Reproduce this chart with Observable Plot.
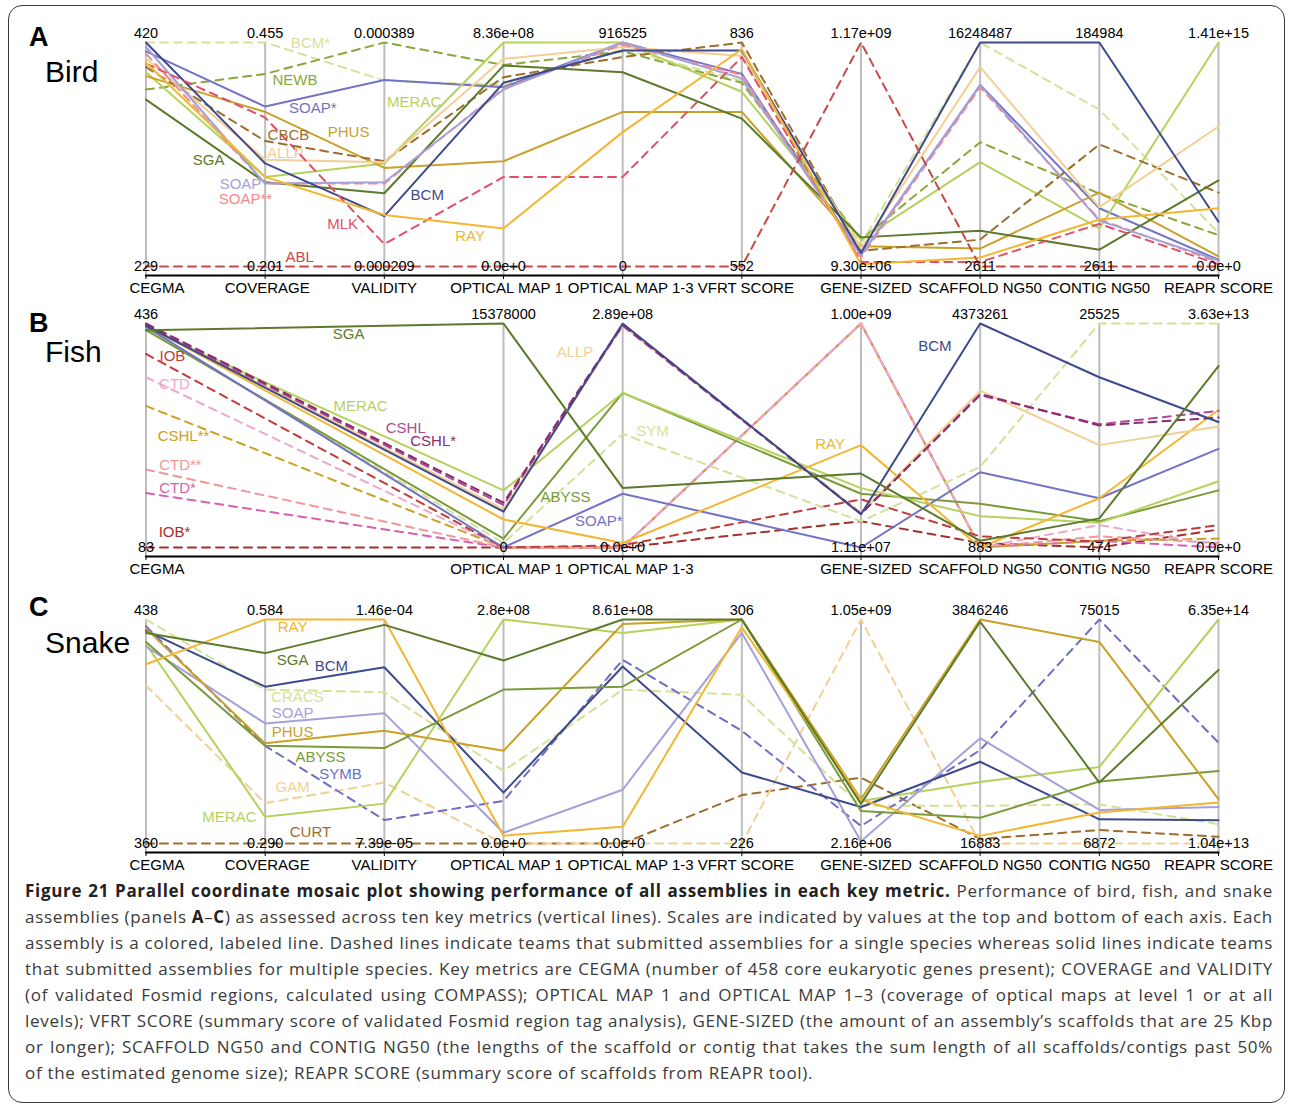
<!DOCTYPE html>
<html><head><meta charset="utf-8">
<script src="https://cdn.jsdelivr.net/npm/d3@7"></script>
<script src="https://cdn.jsdelivr.net/npm/@observablehq/plot@0.6"></script>
<style>
body{margin:0;background:#fff;font-family:"Liberation Sans",Arial,sans-serif;}
#box{position:absolute;left:8px;top:5px;width:1277px;height:1098px;border:1.5px solid #3a3a3a;border-radius:14px;box-sizing:border-box;}
.panel{position:absolute;left:0;}
.letter{position:absolute;left:29px;font-weight:bold;font-size:27px;line-height:1;color:#000;}
.species{position:absolute;left:45px;font-size:30px;line-height:1;color:#000;}
#caption{position:absolute;left:25px;top:878px;width:1248px;font-family:"Open Sans",sans-serif;font-size:17px;letter-spacing:0.7px;color:#3a3a3a;line-height:26px;}
#caption div{white-space:nowrap;}
#caption b{color:#222;}
</style></head>
<body>
<div id="box"></div>
<div id="charts"></div>
<div class="letter" style="top:24px">A</div><div class="species" style="top:57px">Bird</div>
<div class="letter" style="top:310px">B</div><div class="species" style="top:337px">Fish</div>
<div class="letter" style="top:594px">C</div><div class="species" style="top:628px">Snake</div>
<div id="caption">
<div class="fit"><b>Figure 21 Parallel coordinate mosaic plot showing performance of all assemblies in each key metric.</b> Performance of bird, fish, and snake</div>
<div class="fit">assemblies (panels <b>A</b>–<b>C</b>) as assessed across ten key metrics (vertical lines). Scales are indicated by values at the top and bottom of each axis. Each</div>
<div class="fit">assembly is a colored, labeled line. Dashed lines indicate teams that submitted assemblies for a single species whereas solid lines indicate teams</div>
<div class="fit">that submitted assemblies for multiple species. Key metrics are CEGMA (number of 458 core eukaryotic genes present); COVERAGE and VALIDITY</div>
<div class="fit">(of validated Fosmid regions, calculated using COMPASS); OPTICAL MAP 1 and OPTICAL MAP 1–3 (coverage of optical maps at level 1 or at all</div>
<div class="fit">levels); VFRT SCORE (summary score of validated Fosmid region tag analysis), GENE-SIZED (the amount of an assembly’s scaffolds that are 25 Kbp</div>
<div class="fit">or longer); SCAFFOLD NG50 and CONTIG NG50 (the lengths of the scaffold or contig that takes the sum length of all scaffolds/contigs past 50%</div>
<div>of the estimated genome size); REAPR SCORE (summary score of scaffolds from REAPR tool).</div>
</div>
<script>
// ---------- metrics ----------
const metrics = ["CEGMA","COVERAGE","VALIDITY","OPTICAL MAP 1","OPTICAL MAP 1-3","VFRT SCORE","GENE-SIZED","SCAFFOLD NG50","CONTIG NG50","REAPR SCORE"];

// ---------- Bird (panel A) ----------
const birdAxes = [0,1,2,3,4,5,6,7,8,9];
const birdTop = ["420","0.455","0.000389","8.36e+08","916525","836","1.17e+09","16248487","184984","1.41e+15"];
const birdBottom = ["229","0.201","0.000209","0.0e+0","0","552","9.30e+06","2611","2611","0.0e+0"];
const birdNames = ["BCM*","NEWB","SOAP*","MERAC","PHUS","CBCB","ALLP","SGA","SOAP**","SOAP","BCM","MLK","RAY","ABL"];
// normalized position on each axis (0 = bottom value, 1 = top value)
const birdValues = [
  [1.00,1.00,0.83,0.81,0.97,0.83,0.10,1.00,0.70,0.15],
  [0.79,0.86,1.00,0.90,0.96,0.82,0.12,0.555,0.325,0.14],
  [0.96,0.714,0.833,0.80,1.00,0.86,0.05,0.81,0.26,0.03],
  [0.867,0.40,0.46,1.00,1.00,0.78,0.12,0.466,0.17,1.00],
  [0.85,0.69,0.44,0.47,0.69,0.69,0.09,0.08,0.33,0.045],
  [0.89,0.56,0.47,0.845,0.935,1.00,0.07,0.12,0.545,0.33],
  [0.93,0.477,0.465,0.927,0.98,0.94,0.08,0.89,0.265,0.625],
  [0.745,0.376,0.327,0.897,0.867,0.66,0.13,0.16,0.075,0.384],
  [0.95,0.37,0.37,0.795,0.99,0.855,0.04,0.80,0.21,0.02],
  [0.98,0.37,0.376,0.79,1.00,0.84,0.05,0.81,0.205,0.027],
  [1.00,0.46,0.225,0.82,0.964,0.964,0.06,1.00,1.00,0.20],
  [0.906,0.665,0.10,0.40,0.40,0.935,0.02,0.02,0.19,0.01],
  [0.91,0.40,0.23,0.17,0.60,0.97,0.01,0.04,0.21,0.26],
  [0,0,0,0,0,0,1.00,0,0,0]
];
const birdLabelNames = ["BCM*","NEWB","SOAP*","MERAC","PHUS","CBCB","ALLP","SGA","SOAP","SOAP**","BCM","MLK","RAY","ABL"];
const birdLabelX = [1.38,1.25,1.40,2.25,1.70,1.195,1.17,0.525,0.793,0.835,2.36,1.65,2.72,1.29];
const birdLabelY = [0.996,0.83,0.705,0.732,0.598,0.585,0.504,0.473,0.367,0.299,0.317,0.1875,0.134,0.04];

// ---------- Fish (panel B) ----------
const fishAxes = [0,3,4,6,7,8,9];
const fishTop = ["436","","","15378000","2.89e+08","","1.00e+09","4373261","25525","3.63e+13"];
const fishBottom = ["83","","","0","0.0e+0","","1.11e+07","883","474","0.0e+0"];
const fishNames = ["IOB*","CTD*","CTD**","CSHL**","CTD","IOB","SYM","ABYSS","MERAC","SOAP*","RAY","ALLP","CSHL","CSHL*","BCM","SGA"];
const fishValues = [
  [0.00,0.00,0.00,0.117,0.02,0.00,0.08],
  [0.243,0.00,0.00,1.00,0.00,0.03,0.00],
  [0.348,0.00,0.00,1.00,0.00,0.05,0.02],
  [0.632,0.00,0.00,1.00,0.00,0.03,0.04],
  [0.76,0.00,0.00,1.00,0.00,0.10,0.01],
  [0.864,0.00,0.01,0.215,0.05,0.027,0.10],
  [0.975,0.02,0.507,0.117,0.36,1.00,1.00],
  [0.97,0.04,0.69,0.24,0.195,0.117,0.255],
  [0.98,0.255,0.69,0.265,0.14,0.11,0.296],
  [0.985,0.00,0.24,0.00,0.336,0.22,0.44],
  [0.99,0.125,0.02,0.457,0.00,0.22,0.614],
  [0.995,0.17,0.99,0.155,0.70,0.457,0.54],
  [0.995,0.19,0.99,0.15,0.68,0.55,0.61],
  [1.00,0.20,0.995,0.15,0.685,0.545,0.58],
  [0.99,0.16,1.00,0.148,1.00,0.76,0.56],
  [0.97,1.00,0.266,0.33,0.03,0.13,0.81]
];
const fishLabelNames = ["SGA","IOB","CTD","MERAC","CSHL","CSHL*","CSHL**","CTD**","CTD*","IOB*","ALLP","SYM","ABYSS","SOAP*","RAY","BCM"];
const fishLabelX = [1.70,0.222,0.239,1.80,2.18,2.41,0.315,0.289,0.264,0.239,3.60,4.25,3.52,3.80,5.74,6.62];
const fishLabelY = [0.951,0.852,0.731,0.632,0.534,0.475,0.498,0.368,0.265,0.067,0.87,0.52,0.224,0.117,0.462,0.897];

// ---------- Snake (panel C) ----------
const snakeAxes = [0,1,2,3,4,5,6,7,8,9];
const snakeTop = ["438","0.584","1.46e-04","2.8e+08","8.61e+08","306","1.05e+09","3846246","75015","6.35e+14"];
const snakeBottom = ["360","0.290","7.39e-05","0.0e+0","0.0e+0","226","2.16e+06","16883","6872","1.04e+13"];
const snakeNames = ["CURT","GAM","CRACS","SYMB","MERAC","SOAP","BCM","ABYSS","PHUS","RAY","SGA"];
const snakeValues = [
  [0,0,0,0,0,0.216,0.294,0.02,0.06,0.03],
  [0.705,0.18,0.272,0.00,0.00,0.00,1.00,0.00,0.00,0.00],
  [1.00,0.687,0.675,0.324,0.687,0.664,0.168,0.168,0.175,0.086],
  [0.97,0.436,0.105,0.19,0.82,0.503,0.078,0.417,1.00,0.45],
  [0.89,0.119,0.178,1.00,0.94,1.00,0.19,0.275,0.342,1.00],
  [0.88,0.536,0.582,0.048,0.24,0.94,0.01,0.47,0.15,0.163],
  [0.95,0.70,0.787,0.227,0.79,0.317,0.163,0.365,0.108,0.104],
  [0.90,0.436,0.426,0.687,0.70,1.00,0.145,0.115,0.277,0.324],
  [0.96,0.447,0.503,0.414,0.98,1.00,0.198,1.00,0.90,0.198],
  [0.80,1.00,1.00,0.035,0.075,0.965,0.195,0.034,0.138,0.183],
  [0.94,0.85,0.976,0.817,1.00,1.00,0.177,0.99,0.272,0.775]
];
const snakeLabelNames = ["RAY","SGA","BCM","CRACS","SOAP","PHUS","ABYSS","SYMB","GAM","MERAC","CURT"];
const snakeLabelX = [1.23,1.23,1.556,1.27,1.23,1.23,1.464,1.632,1.23,0.70,1.38];
const snakeLabelY = [0.966,0.818,0.792,0.653,0.582,0.497,0.385,0.309,0.253,0.119,0.051];

// ---------- styles ----------
const colorOf = {
  "BCM":"#3e4a8b","BCM*":"#d5e19a","NEWB":"#89a73d","SOAP*":"#7373c5","MERAC":"#b5d25c",
  "PHUS":"#c9a128","CBCB":"#9d6d2d","ALLP":"#f3cf95","SGA":"#5c7a2b","SOAP":"#a6a0da",
  "SOAP**":"#f28b8b","MLK":"#e14f68","RAY":"#f2b632","ABL":"#c94848",
  "IOB":"#c23b3b","IOB*":"#a3302b","CTD":"#eda8cf","CTD*":"#d85fb3","CTD**":"#f29797",
  "CSHL":"#b04a94","CSHL*":"#8a2c6d","CSHL**":"#c9a126","SYM":"#d5e19a","ABYSS":"#7b9b3b",
  "CRACS":"#d5e19a","SYMB":"#6e6ec4","GAM":"#f3cf95","CURT":"#9d6d2d"
};
const dashed = new Set(["BCM*","NEWB","CBCB","SOAP**","MLK","ABL","IOB","IOB*","CTD","CTD*","CTD**","CSHL","CSHL*","CSHL**","SYM","CRACS","SYMB","GAM","CURT"]);
// horizontal nudge (px) of metric names, as in the original layout
const nameShift = [11, 2, 0, 3, 8, 4, 5, 0, 0, 0];

const FONT = "'Liberation Sans', Arial, Helvetica, sans-serif";

function panel(axes, topLab, botLab, names, values, lNames, lX, lY, topPx) {
  const rows = [];
  names.forEach((n, s) => axes.forEach((a, j) => rows.push({name: n, axis: a, v: values[s][j]})));
  const labels = lNames.map((n, k) => ({name: n, x: lX[k], y: lY[k]}));
  const lineMarks = names.map(n => Plot.line(rows.filter(r => r.name === n), {
    x: "axis", y: "v", stroke: colorOf[n], strokeWidth: 2,
    strokeDasharray: dashed.has(n) ? "8,6" : null, strokeLinejoin: "round"
  }));
  const nameMarks = axes.map(a => Plot.text([a],
    {x: d => d, text: d => metrics[d], frameAnchor: "bottom", dy: 17,
     dx: nameShift[a], fill: "#000", fontSize: 15}));
  const svg = Plot.plot({
    width: 1291, height: 300,
    marginLeft: 145.5, marginRight: 73, marginTop: 42, marginBottom: 25,
    x: {domain: [0, 9], axis: null, label: null},
    y: {domain: [-0.0402, 1], axis: null, label: null},
    style: {fontFamily: FONT, fontSize: "15px", background: "transparent", overflow: "visible", color: "#000"},
    marks: [
      Plot.ruleX(axes, {x: d => d, stroke: "#bdbdbd", strokeWidth: 2}),
      ...lineMarks,
      Plot.text(labels, {x: "x", y: "y", text: "name", fill: d => colorOf[d.name], fontSize: 15}),
      Plot.text(axes, {x: d => d, y: 1, text: d => topLab[d], dy: -9, fill: "#000", fontSize: 14.5}),
      Plot.text(axes, {x: d => d, y: 0, text: d => botLab[d], fill: "#000", fontSize: 14.5}),
      Plot.frame({anchor: "bottom", stroke: "#000", strokeWidth: 2}),
      Plot.axisX(axes, {anchor: "bottom", tickFormat: () => "", tickSize: 4, label: null, stroke: "#000"}),
      ...nameMarks
    ]
  });
  svg.classList.add("panel");
  svg.style.top = topPx + "px";
  document.getElementById("charts").appendChild(svg);
}

panel(birdAxes, birdTop, birdBottom, birdNames, birdValues, birdLabelNames, birdLabelX, birdLabelY, 0);
panel(fishAxes, fishTop, fishBottom, fishNames, fishValues, fishLabelNames, fishLabelX, fishLabelY, 281);
panel(snakeAxes, snakeTop, snakeBottom, snakeNames, snakeValues, snakeLabelNames, snakeLabelX, snakeLabelY, 577);

// justify caption lines to the full text width
const target = 1248;
document.querySelectorAll("#caption div.fit").forEach(div => {
  const r = document.createRange(); r.selectNodeContents(div);
  const w = r.getBoundingClientRect().width;
  const spaces = (div.textContent.match(/ /g) || []).length;
  if (spaces > 0) div.style.wordSpacing = ((target - w) / spaces) + "px";
});
</script>
</body></html>
